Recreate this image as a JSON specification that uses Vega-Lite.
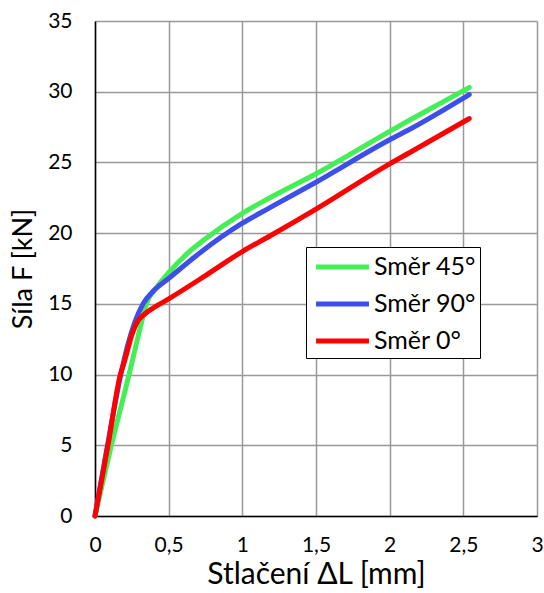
{
  "$schema": "https://vega.github.io/schema/vega-lite/v6.json",
  "autosize": {"type": "none"},
  "width": 442,
  "height": 495,
  "padding": {"left": 95, "top": 21, "right": 7, "bottom": 77},
  "background": "white",
  "config": {
    "font": "Lato",
    "view": {"stroke": null}
  },
  "data": {
    "values": [
      {"s": "Směr 45°", "x": 0, "F": 0},
      {"s": "Směr 45°", "x": 0.111, "F": 5},
      {"s": "Směr 45°", "x": 0.231, "F": 10},
      {"s": "Směr 45°", "x": 0.254, "F": 11},
      {"s": "Směr 45°", "x": 0.303, "F": 13.15},
      {"s": "Směr 45°", "x": 0.349, "F": 15},
      {"s": "Směr 45°", "x": 0.42, "F": 16.2},
      {"s": "Směr 45°", "x": 0.5, "F": 17.2},
      {"s": "Směr 45°", "x": 0.631, "F": 18.6},
      {"s": "Směr 45°", "x": 0.75, "F": 19.6},
      {"s": "Směr 45°", "x": 1.0, "F": 21.4},
      {"s": "Směr 45°", "x": 1.187, "F": 22.5},
      {"s": "Směr 45°", "x": 1.5, "F": 24.2},
      {"s": "Směr 45°", "x": 2.0, "F": 27.2},
      {"s": "Směr 45°", "x": 2.137, "F": 28.0},
      {"s": "Směr 45°", "x": 2.54, "F": 30.3},
      {"s": "Směr 90°", "x": 0, "F": 0},
      {"s": "Směr 90°", "x": 0.085, "F": 5},
      {"s": "Směr 90°", "x": 0.175, "F": 10},
      {"s": "Směr 90°", "x": 0.22, "F": 12},
      {"s": "Směr 90°", "x": 0.27, "F": 13.7},
      {"s": "Směr 90°", "x": 0.326, "F": 15.0},
      {"s": "Směr 90°", "x": 0.4, "F": 15.95},
      {"s": "Směr 90°", "x": 0.5, "F": 16.8},
      {"s": "Směr 90°", "x": 0.711, "F": 18.6},
      {"s": "Směr 90°", "x": 1.0, "F": 20.7},
      {"s": "Směr 90°", "x": 1.187, "F": 21.8},
      {"s": "Směr 90°", "x": 1.5, "F": 23.6},
      {"s": "Směr 90°", "x": 2.0, "F": 26.6},
      {"s": "Směr 90°", "x": 2.137, "F": 27.35},
      {"s": "Směr 90°", "x": 2.54, "F": 29.8},
      {"s": "Směr 0°", "x": 0, "F": 0},
      {"s": "Směr 0°", "x": 0.088, "F": 5},
      {"s": "Směr 0°", "x": 0.172, "F": 10},
      {"s": "Směr 0°", "x": 0.202, "F": 11},
      {"s": "Směr 0°", "x": 0.247, "F": 12.7},
      {"s": "Směr 0°", "x": 0.292, "F": 13.8},
      {"s": "Směr 0°", "x": 0.34, "F": 14.3},
      {"s": "Směr 0°", "x": 0.394, "F": 14.7},
      {"s": "Směr 0°", "x": 0.5, "F": 15.35},
      {"s": "Směr 0°", "x": 0.75, "F": 17.0},
      {"s": "Směr 0°", "x": 1.0, "F": 18.7},
      {"s": "Směr 0°", "x": 1.187, "F": 19.8},
      {"s": "Směr 0°", "x": 1.5, "F": 21.7},
      {"s": "Směr 0°", "x": 2.0, "F": 24.9},
      {"s": "Směr 0°", "x": 2.137, "F": 25.7},
      {"s": "Směr 0°", "x": 2.54, "F": 28.1}
    ]
  },
  "mark": {"type": "line", "strokeWidth": 5, "strokeCap": "round", "interpolate": "monotone"},
  "encoding": {
    "x": {
      "field": "x", "type": "quantitative",
      "scale": {"domain": [0, 3], "nice": false, "zero": false},
      "axis": {
        "title": "Stlačení ΔL [mm]",
        "values": [0, 0.5, 1, 1.5, 2, 2.5, 3],
        "format": "~g",
        "labelExpr": "replace(datum.label, '.', ',')",
        "labelFontSize": 21,
        "labelColor": "#000",
        "labelPadding": 18,
        "labelFlush": false,
        "ticks": false,
        "domainColor": "#000",
        "domainWidth": 1.5,
        "gridColor": "#999",
        "gridWidth": 1.5,
        "gridOpacity": 1,
        "titleFontSize": 30,
        "titleFontWeight": "normal",
        "titleColor": "#000",
        "titlePadding": 4
      }
    },
    "y": {
      "field": "F", "type": "quantitative",
      "scale": {"domain": [0, 35], "nice": false},
      "axis": {
        "title": "Síla F [kN]",
        "values": [0, 5, 10, 15, 20, 25, 30, 35],
        "labelFontSize": 21,
        "labelColor": "#000",
        "labelPadding": 23,
        "labelFlush": false,
        "ticks": false,
        "domainColor": "#000",
        "domainWidth": 1.5,
        "gridColor": "#999",
        "gridWidth": 1.5,
        "gridOpacity": 1,
        "titleFontSize": 27,
        "titleFontWeight": "normal",
        "titleColor": "#000",
        "titlePadding": 10
      }
    },
    "color": {
      "field": "s", "type": "nominal",
      "scale": {"domain": ["Směr 45°", "Směr 90°", "Směr 0°"], "range": ["#44EE55", "#3D4EEA", "#FF0000"]},
      "legend": {
        "title": null,
        "orient": "none",
        "legendX": 211,
        "legendY": 226,
        "fillColor": "white",
        "strokeColor": "#000",
        "padding": 4,
        "symbolType": "stroke",
        "symbolSize": 100,
        "symbolStrokeWidth": 5,
        "labelFontSize": 25,
        "labelColor": "#000",
        "labelOffset": 32,
        "rowPadding": 8,
        "encode": {
          "symbols": {
            "update": {
              "shape": {"value": "M-2,0H2"},
              "size": {"value": 700},
              "x": {"value": 32.5}
            }
          }
        }
      }
    }
  }
}
